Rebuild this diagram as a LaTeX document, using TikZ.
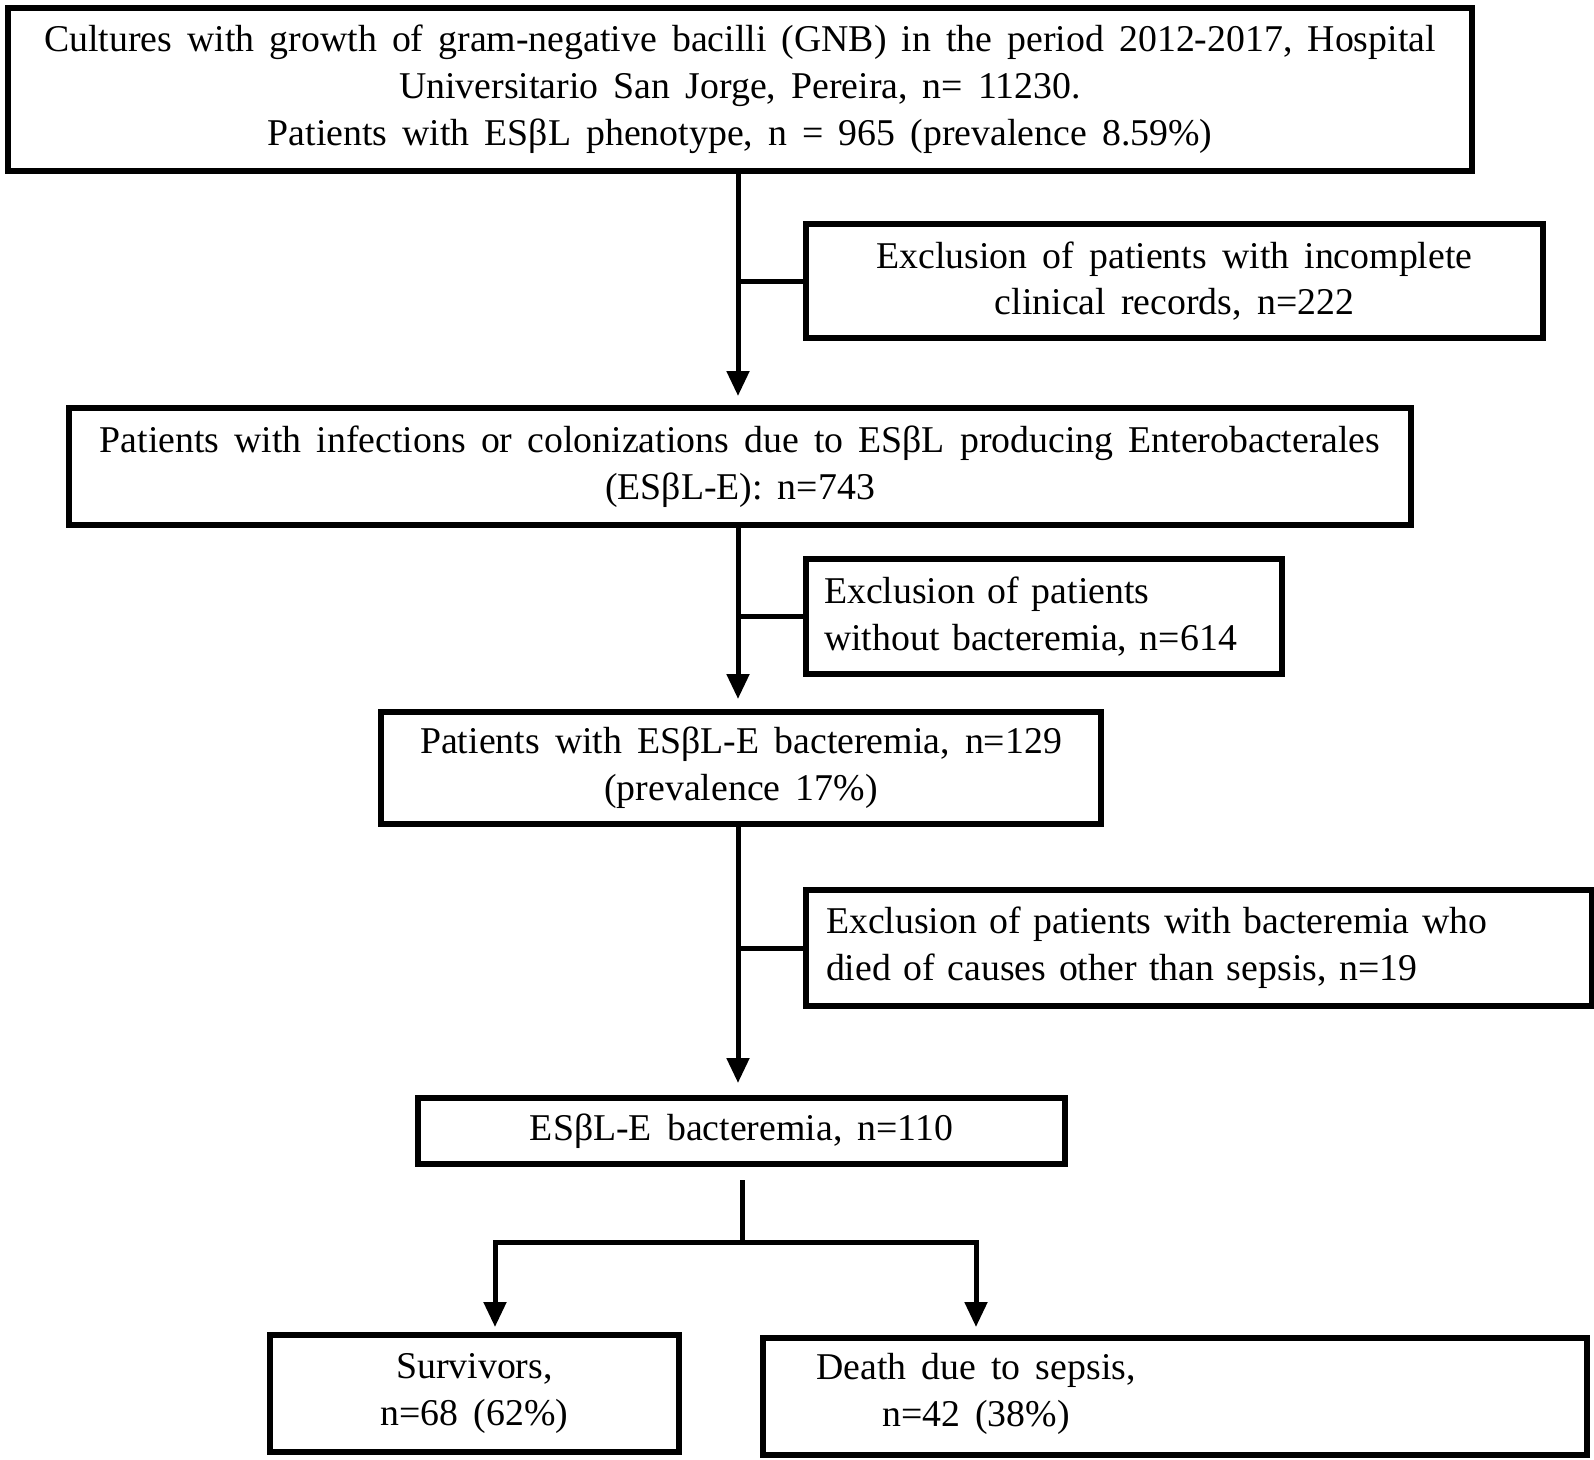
\documentclass[tikz,border=0pt]{standalone}
\usepackage{fontspec}
\setmainfont[WordSpace=1.6]{Liberation Serif}
\usetikzlibrary{arrows.meta,calc}
\begin{document}
\begin{tikzpicture}[x=1pt,y=-1pt,
  box/.style={draw, line width=6pt, anchor=north west, inner sep=0pt, align=center,
    font=\fontsize{37.8}{46.8}\selectfont},
  txt/.style={inner sep=0pt, align=center, font=\fontsize{37.8}{46.8}\selectfont},
  conn/.style={line width=5pt, line join=miter},
  arr/.style={line width=5pt, line join=miter, -{Triangle[width=22pt,length=25pt]}}]
\useasboundingbox (0,0) rectangle (1594,1459);
\fill[white] (0,0) rectangle (1594,1459);

\node[box, minimum width=1464pt, minimum height=163pt] (b1) at (5,5)
  {Cultures with growth of gram-negative bacilli (GNB) in the period 2012-2017, Hospital\\
   Universitario San Jorge, Pereira, n= 11230.\\
   Patients with ESβL phenotype, n = 965 (prevalence 8.59\%)};

\node[box, minimum width=737pt, minimum height=114pt] (e1) at (803,221)
  {Exclusion of patients with incomplete\\ clinical records, n=222};

\node[box, minimum width=1342pt, minimum height=117pt] (b2) at (66,405)
  {Patients with infections or colonizations due to ESβL producing Enterobacterales\\
   (ESβL-E): n=743};

\node[box, minimum width=476pt, minimum height=115pt, text width=440pt, align=left] (e2) at (803,556)
  {Exclusion of patients\\ without bacteremia, n=614};

\node[box, minimum width=720pt, minimum height=112pt] (b3) at (378,709)
  {Patients with ESβL-E bacteremia, n=129\\ (prevalence 17\%)};

\node[box, minimum width=786pt, minimum height=116pt, text width=746pt, align=left] (e3) at (803,887)
  {Exclusion of patients with bacteremia who\\ died of causes other than sepsis, n=19};

\node[box, minimum width=647pt, minimum height=66pt] (b4) at (415,1095)
  {ESβL-E bacteremia, n=110};

\node[box, minimum width=409pt, minimum height=117pt] (sv) at (267,1332)
  {Survivors,\\ n=68 (62\%)};

\node[box, minimum width=824pt, minimum height=117pt] (dt) at (760,1335) {};
\node[txt] (dtt) at (976,1393.5) {Death due to sepsis,\\ n=42 (38\%)};

% trunk
\coordinate (tx) at (738,0);
\draw[arr] (tx |- b1.south) -- ($(tx |- b2.north)+(0,-9)$);
\draw[conn] (tx |- e1.west) -- (e1.west);
\draw[arr] (tx |- b2.south) -- ($(tx |- b3.north)+(0,-10)$);
\draw[conn] (tx |- e2.west) -- (e2.west);
\draw[arr] (tx |- b3.south) -- ($(tx |- b4.north)+(0,-12)$);
\draw[conn] (tx |- e3.west) -- (e3.west);

% split
\coordinate (sp) at (742,1242);
\coordinate (st) at ($(sp |- b4.south)+(0,13)$);
\coordinate (sl) at (495,1242);
\coordinate (sr) at (976,1242);
\draw[conn] (st) -- (sp);
\draw[arr] (sr) -- (sl) -- ($(sl |- sv.north)+(0,-5)$);
\draw[arr] (sl) -- (sr) -- ($(sr |- dt.north)+(0,-8)$);
\end{tikzpicture}
\end{document}
